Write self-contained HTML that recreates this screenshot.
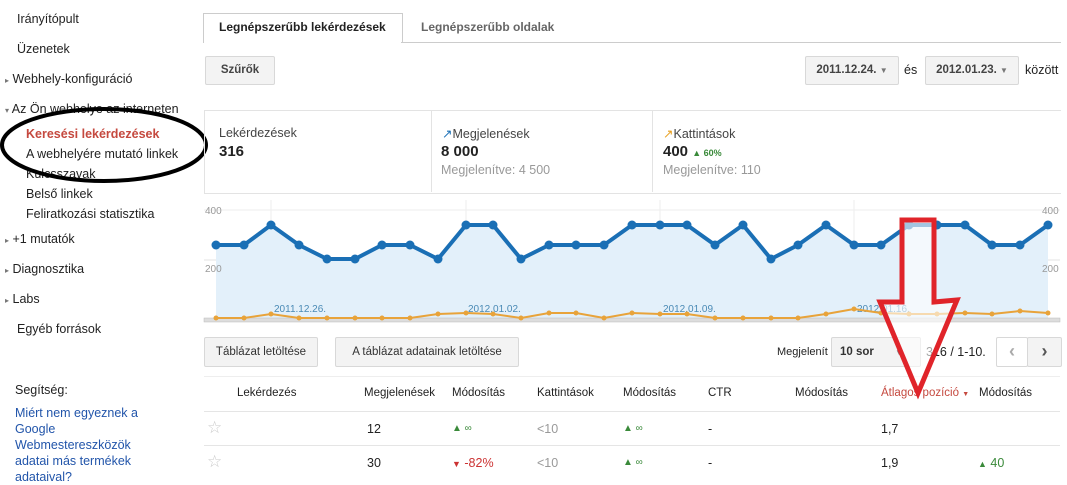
<!DOCTYPE html>
<html><head><meta charset="utf-8"><style>
body{margin:0;width:1067px;height:478px;background:#fff;font-family:"Liberation Sans",Arial,sans-serif;font-size:12.5px;color:#222;position:relative;overflow:hidden}
.a{position:absolute;white-space:nowrap}
.btn{position:absolute;border:1px solid #d8d8d8;background:#f3f3f3;border-radius:2px;font-weight:bold;font-size:11.5px;color:#444;text-align:center}
.g{color:#3a8a3a}.r{color:#c33}.gr{color:#999}
</style></head><body>
<div class="a" style="left:17px;top:12px">Irányítópult</div>
<div class="a" style="left:17px;top:42px">Üzenetek</div>
<div class="a" style="left:5px;top:72px"><span style="font-size:8px;color:#777">▸</span> Webhely-konfiguráció</div>
<div class="a" style="left:5px;top:102px"><span style="font-size:8px;color:#777">▾</span> Az Ön webhelye az interneten</div>
<div class="a" style="left:26px;top:127px;color:#c5493f;font-weight:bold">Keresési lekérdezések</div>
<div class="a" style="left:26px;top:147px">A webhelyére mutató linkek</div>
<div class="a" style="left:26px;top:167px">Kulcsszavak</div>
<div class="a" style="left:26px;top:187px">Belső linkek</div>
<div class="a" style="left:26px;top:207px">Feliratkozási statisztika</div>
<div class="a" style="left:5px;top:232px"><span style="font-size:8px;color:#777">▸</span> +1 mutatók</div>
<div class="a" style="left:5px;top:262px"><span style="font-size:8px;color:#777">▸</span> Diagnosztika</div>
<div class="a" style="left:5px;top:292px"><span style="font-size:8px;color:#777">▸</span> Labs</div>
<div class="a" style="left:17px;top:322px">Egyéb források</div>
<div class="a" style="left:15px;top:383px">Segítség:</div>
<div class="a" style="left:15px;top:405px;color:#2255aa;line-height:16px">Miért nem egyeznek a<br>Google<br>Webmestereszközök<br>adatai más termékek<br>adataival?</div>
<svg class="a" style="left:0;top:0" width="220" height="200"><ellipse cx="104" cy="145" rx="102" ry="36" fill="none" stroke="#000" stroke-width="4"/></svg>
<div class="a" style="left:203px;top:13px;width:198px;height:29px;border:1px solid #ccc;border-bottom:none;background:#fff"></div>
<div class="a" style="left:401px;top:42px;width:660px;border-top:1px solid #ccc"></div>
<div class="a" style="left:219px;top:20px;font-weight:bold;font-size:12px">Legnépszerűbb lekérdezések</div>
<div class="a" style="left:421px;top:20px;font-weight:bold;font-size:12px;color:#666">Legnépszerűbb oldalak</div>
<div class="btn" style="left:205px;top:56px;width:68px;height:27px;line-height:27px">Szűrők</div>
<div class="btn" style="left:805px;top:56px;width:92px;height:27px;line-height:27px">2011.12.24. <span style="font-size:8px;color:#777">▼</span></div>
<div class="a" style="left:904px;top:63px">és</div>
<div class="btn" style="left:925px;top:56px;width:92px;height:27px;line-height:27px">2012.01.23. <span style="font-size:8px;color:#777">▼</span></div>
<div class="a" style="left:1025px;top:63px">között</div>
<div class="a" style="left:204px;top:110px;width:856px;height:82px;border:1px solid #e3e3e3;border-right:none"></div>
<div class="a" style="left:431px;top:110px;height:82px;border-left:1px solid #e3e3e3"></div>
<div class="a" style="left:652px;top:110px;height:82px;border-left:1px solid #e3e3e3"></div>
<div class="a" style="left:219px;top:126px;color:#444">Lekérdezések</div>
<div class="a" style="left:219px;top:143px;font-weight:bold;font-size:15px">316</div>
<div class="a" style="left:442px;top:126px;color:#444"><span style="color:#1a6fb5">↗</span>Megjelenések</div>
<div class="a" style="left:441px;top:143px;font-weight:bold;font-size:15px">8 000</div>
<div class="a" style="left:441px;top:163px;color:#999">Megjelenítve: 4 500</div>
<div class="a" style="left:663px;top:126px;color:#444"><span style="color:#e8a020">↗</span>Kattintások</div>
<div class="a" style="left:663px;top:143px;font-weight:bold;font-size:15px">400 <span class="g" style="font-size:9px">▲ 60%</span></div>
<div class="a" style="left:663px;top:163px;color:#999">Megjelenítve: 110</div>
<svg class="a" style="left:0;top:0" width="1067" height="478">
<line x1="204" y1="210" x2="1060" y2="210" stroke="#eee"/>
<line x1="204" y1="260" x2="1060" y2="260" stroke="#e3e3e3"/>
<line x1="271" y1="200" x2="271" y2="320" stroke="#eee"/><line x1="466" y1="200" x2="466" y2="320" stroke="#eee"/><line x1="660" y1="200" x2="660" y2="320" stroke="#eee"/><line x1="854" y1="200" x2="854" y2="320" stroke="#eee"/>
<polygon fill="#e3f0fa" points="216,320 216,245 244,245 271,225 299,245 327,259 355,259 382,245 410,245 438,259 466,225 493,225 521,259 549,245 576,245 604,245 632,225 660,225 687,225 715,245 743,225 771,259 798,245 826,225 854,245 881,245 909,225 937,225 965,225 992,245 1020,245 1048,225 1048,320"/>
<rect x="204" y="318" width="856" height="4" fill="#ddd" stroke="#bbb" stroke-width="0.5"/>
<g font-size="10" fill="#999" font-family="Liberation Sans,sans-serif"><text x="205" y="214">400</text><text x="205" y="272">200</text><text x="1042" y="214">400</text><text x="1042" y="272">200</text></g>
<g font-size="10" fill="#4a8ab5" font-family="Liberation Sans,sans-serif"><text x="274" y="312">2011.12.26.</text><text x="468" y="312">2012.01.02.</text><text x="663" y="312">2012.01.09.</text><text x="857" y="312">2012.01.16.</text></g>
<polyline fill="none" stroke="#e8a33a" stroke-width="2" points="216,318 244,318 271,314 299,318 327,318 355,318 382,318 410,318 438,314 466,313 493,314 521,318 549,313 576,313 604,318 632,313 660,314 687,314 715,318 743,318 771,318 798,318 826,314 854,309 881,313 909,314 937,314 965,313 992,314 1020,311 1048,313"/>
<g fill="#e8a33a"><circle cx="216" cy="318" r="2.5"/><circle cx="244" cy="318" r="2.5"/><circle cx="271" cy="314" r="2.5"/><circle cx="299" cy="318" r="2.5"/><circle cx="327" cy="318" r="2.5"/><circle cx="355" cy="318" r="2.5"/><circle cx="382" cy="318" r="2.5"/><circle cx="410" cy="318" r="2.5"/><circle cx="438" cy="314" r="2.5"/><circle cx="466" cy="313" r="2.5"/><circle cx="493" cy="314" r="2.5"/><circle cx="521" cy="318" r="2.5"/><circle cx="549" cy="313" r="2.5"/><circle cx="576" cy="313" r="2.5"/><circle cx="604" cy="318" r="2.5"/><circle cx="632" cy="313" r="2.5"/><circle cx="660" cy="314" r="2.5"/><circle cx="687" cy="314" r="2.5"/><circle cx="715" cy="318" r="2.5"/><circle cx="743" cy="318" r="2.5"/><circle cx="771" cy="318" r="2.5"/><circle cx="798" cy="318" r="2.5"/><circle cx="826" cy="314" r="2.5"/><circle cx="854" cy="309" r="2.5"/><circle cx="881" cy="313" r="2.5"/><circle cx="909" cy="314" r="2.5"/><circle cx="937" cy="314" r="2.5"/><circle cx="965" cy="313" r="2.5"/><circle cx="992" cy="314" r="2.5"/><circle cx="1020" cy="311" r="2.5"/><circle cx="1048" cy="313" r="2.5"/></g>
<polyline fill="none" stroke="#1a6fb5" stroke-width="4" stroke-linejoin="round" points="216,245 244,245 271,225 299,245 327,259 355,259 382,245 410,245 438,259 466,225 493,225 521,259 549,245 576,245 604,245 632,225 660,225 687,225 715,245 743,225 771,259 798,245 826,225 854,245 881,245 909,225 937,225 965,225 992,245 1020,245 1048,225"/>
<g fill="#1a6fb5"><circle cx="216" cy="245" r="4.5"/><circle cx="244" cy="245" r="4.5"/><circle cx="271" cy="225" r="4.5"/><circle cx="299" cy="245" r="4.5"/><circle cx="327" cy="259" r="4.5"/><circle cx="355" cy="259" r="4.5"/><circle cx="382" cy="245" r="4.5"/><circle cx="410" cy="245" r="4.5"/><circle cx="438" cy="259" r="4.5"/><circle cx="466" cy="225" r="4.5"/><circle cx="493" cy="225" r="4.5"/><circle cx="521" cy="259" r="4.5"/><circle cx="549" cy="245" r="4.5"/><circle cx="576" cy="245" r="4.5"/><circle cx="604" cy="245" r="4.5"/><circle cx="632" cy="225" r="4.5"/><circle cx="660" cy="225" r="4.5"/><circle cx="687" cy="225" r="4.5"/><circle cx="715" cy="245" r="4.5"/><circle cx="743" cy="225" r="4.5"/><circle cx="771" cy="259" r="4.5"/><circle cx="798" cy="245" r="4.5"/><circle cx="826" cy="225" r="4.5"/><circle cx="854" cy="245" r="4.5"/><circle cx="881" cy="245" r="4.5"/><circle cx="909" cy="225" r="4.5"/><circle cx="937" cy="225" r="4.5"/><circle cx="965" cy="225" r="4.5"/><circle cx="992" cy="245" r="4.5"/><circle cx="1020" cy="245" r="4.5"/><circle cx="1048" cy="225" r="4.5"/></g>
</svg>
<div class="btn" style="left:204px;top:337px;width:112px;height:28px;line-height:28px;font-weight:normal;color:#333">Táblázat letöltése</div>
<div class="btn" style="left:335px;top:337px;width:182px;height:28px;line-height:28px;font-weight:normal;color:#333">A táblázat adatainak letöltése</div>
<div class="a" style="left:777px;top:346px;font-size:11px">Megjelenít</div>
<div class="btn" style="left:831px;top:337px;width:88px;height:28px;line-height:28px;text-align:left;text-indent:8px;color:#333">10 sor <span style="font-size:8px;color:#777;margin-left:18px">▼</span></div>
<div class="a" style="left:926px;top:345px">316 / 1-10.</div>
<div class="btn" style="left:996px;top:337px;width:30px;height:28px;line-height:26px;background:#fff;font-size:18px;color:#aaa">‹</div>
<div class="btn" style="left:1027px;top:337px;width:33px;height:28px;line-height:26px;font-size:18px;color:#555">›</div>
<div class="a" style="left:204px;top:376px;width:856px;border-top:1px solid #eee"></div>
<div class="a" style="left:204px;top:411px;width:856px;border-top:1px solid #e5e5e5"></div>
<div class="a" style="left:204px;top:445px;width:856px;border-top:1px solid #e5e5e5"></div>
<div class="a" style="left:237px;top:387px;font-size:11.5px">Lekérdezés</div>
<div class="a" style="left:364px;top:387px;font-size:11.5px">Megjelenések</div>
<div class="a" style="left:452px;top:387px;font-size:11.5px">Módosítás</div>
<div class="a" style="left:537px;top:387px;font-size:11.5px">Kattintások</div>
<div class="a" style="left:623px;top:387px;font-size:11.5px">Módosítás</div>
<div class="a" style="left:708px;top:387px;font-size:11.5px">CTR</div>
<div class="a" style="left:795px;top:387px;font-size:11.5px">Módosítás</div>
<div class="a" style="left:881px;top:387px;font-size:11.5px;color:#c5493f">Átlagos pozíció <span style="font-size:7px">▼</span></div>
<div class="a" style="left:979px;top:387px;font-size:11.5px">Módosítás</div>
<div class="a" style="left:207px;top:418px;font-size:17px;color:#ccc">☆</div>
<div class="a" style="left:367px;top:422px">12</div>
<div class="a g" style="left:452px;top:423px;font-size:10px">▲ ∞</div>
<div class="a gr" style="left:537px;top:422px">&lt;10</div>
<div class="a g" style="left:623px;top:423px;font-size:10px">▲ ∞</div>
<div class="a" style="left:708px;top:422px">-</div>
<div class="a" style="left:881px;top:422px">1,7</div>
<div class="a" style="left:207px;top:452px;font-size:17px;color:#ccc">☆</div>
<div class="a" style="left:367px;top:456px">30</div>
<div class="a r" style="left:452px;top:456px"><span style="font-size:9px">▼</span> -82%</div>
<div class="a gr" style="left:537px;top:456px">&lt;10</div>
<div class="a g" style="left:623px;top:457px;font-size:10px">▲ ∞</div>
<div class="a" style="left:708px;top:456px">-</div>
<div class="a" style="left:881px;top:456px">1,9</div>
<div class="a g" style="left:978px;top:456px"><span style="font-size:9px">▲</span> 40</div>
<svg class="a" style="left:0;top:0" width="1067" height="478"><polygon points="902,220 934,220 934,302 957,300 918,393 880,302 902,302" fill="rgba(255,255,255,0.6)" stroke="#e0242a" stroke-width="5" stroke-linejoin="miter"/></svg>
</body></html>
